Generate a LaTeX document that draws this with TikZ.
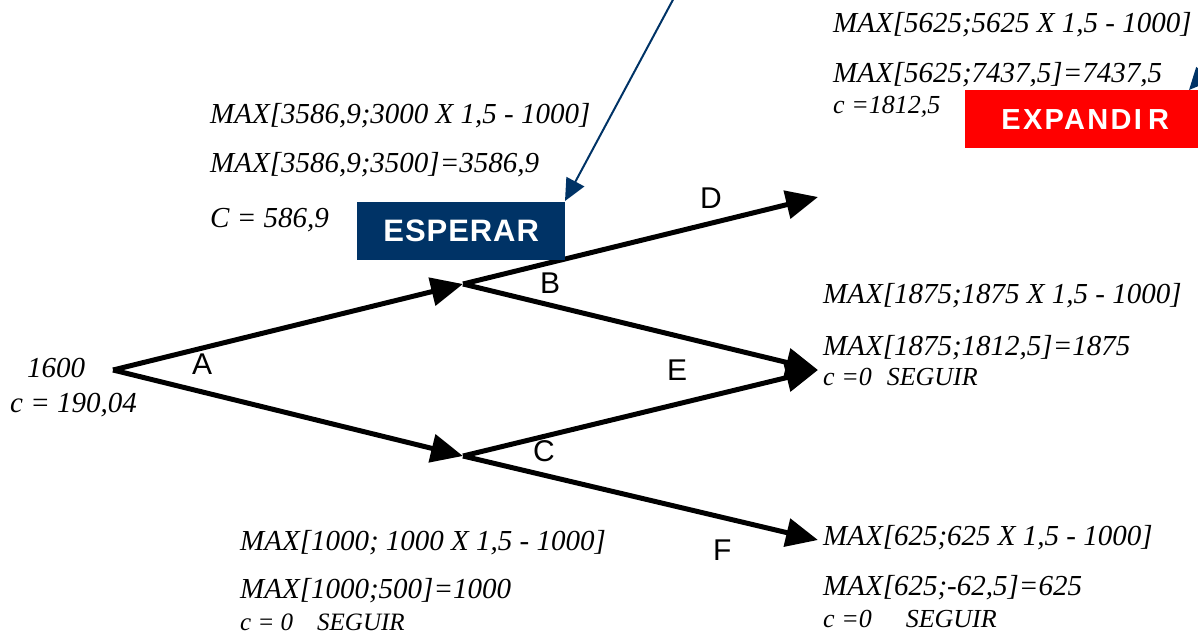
\documentclass[tikz,border=0pt]{standalone}
\usepackage{fontspec}
\setmainfont{Liberation Serif}
\newfontfamily\lsans{Liberation Sans}
\newfontfamily\espfont[LetterSpace=3]{Liberation Sans}
\newfontfamily\expfont[LetterSpace=8]{Liberation Sans}
\usetikzlibrary{arrows.meta}
\definecolor{navy}{RGB}{0,51,102}
\definecolor{redbox}{RGB}{255,0,0}
\begin{document}
\begin{tikzpicture}[x=1pt,y=-1pt,
  branch/.style={line width=5pt,-{Triangle[length=32pt,width=28pt]}},
  bluearrow/.style={draw=navy,line width=2pt,-{Triangle[length=22pt,width=20pt]},fill=navy},
  lbl/.style={font=\lsans\fontsize{30}{30}\selectfont,inner sep=0pt,anchor=base west},
  mx/.style={font=\itshape\fontsize{29}{29}\selectfont,inner sep=0pt,anchor=base west},
  cl/.style={font=\itshape\fontsize{26}{26}\selectfont,inner sep=0pt,anchor=base west},
  boxlbl/.style={inner sep=0pt,anchor=north west,text=white,font=\bfseries}]
\useasboundingbox (0,0) rectangle (1198,634);
\clip (0,0) rectangle (1198,634);

% tree points
\coordinate (root) at (113,370);
\coordinate (B) at (463,284);
\coordinate (C) at (463,456);
\coordinate (D) at (818,197);
\coordinate (E) at (818,370);
\coordinate (F) at (818,540);

\draw[branch] (root) -- (B);
\draw[branch] (root) -- (C);
\draw[branch] (B) -- (D);
\draw[branch] (B) -- (E);
\draw[branch] (C) -- (E);
\draw[branch] (C) -- (F);

% branch letters
\node[lbl] (lA) at (192,374) {A};
\node[lbl] (lB) at (540,293) {B};
\node[lbl] (lC) at (533,461) {C};
\node[lbl] (lD) at (700,208) {D};
\node[lbl] (lE) at (667,380) {E};
\node[lbl] (lF) at (713,560) {F};

% root text
\node[mx] (t1600) at (27,377) {1600};
\node[mx] (troot) at (10,412) {c = 190,04};

% B texts
\node[mx] (b1) at (210,123) {MAX[3586,9;3000 X 1,5 - 1000]};
\node[mx] (b2) at (210,172) {MAX[3586,9;3500]=3586,9};
\node[mx] (b3) at (210,227) {C = 586,9};

% D texts
\node[mx] (d1) at (833,33) {MAX[5625;5625 X 1,5 - 1000]};
\node[mx] (d2) at (833,82) {MAX[5625;7437,5]=7437,5};
\node[cl] (d3) at (833,113) {c =1812,5};

% E texts
\node[mx] (e1) at (823,303) {MAX[1875;1875 X 1,5 - 1000]};
\node[mx] (e2) at (823,355) {MAX[1875;1812,5]=1875};
\node[cl] (e3) at (823,385) {c =0\hspace{15pt}SEGUIR};

% C texts
\node[mx] (c1) at (240,550) {MAX[1000; 1000 X 1,5 - 1000]};
\node[mx] (c2) at (240,598) {MAX[1000;500]=1000};
\node[cl,font=\itshape\fontsize{25}{25}\selectfont] (c3) at (240,630) {c = 0\hspace{24pt}SEGUIR};

% F texts
\node[mx] (f1) at (823,545) {MAX[625;625 X 1,5 - 1000]};
\node[mx] (f2) at (823,595) {MAX[625;-62,5]=625};
\node[cl] (f3) at (823,627) {c =0\hspace{34pt}SEGUIR};

% blue arrows
\coordinate (bs1) at (690,-32);
\coordinate (es) at (1324,-58);
\coordinate (et) at (1189,90);
\draw[bluearrow] (bs1) -- (565,201);
\draw[bluearrow] (es) -- (et);

% boxes
\node[boxlbl,fill=navy,minimum width=208pt,minimum height=58pt,
  font=\espfont\bfseries\fontsize{31}{31}\selectfont] (esp) at (357,202) {ESPERAR};
\node[boxlbl,fill=redbox,minimum width=240pt,minimum height=58pt,
  font=\expfont\bfseries\fontsize{29}{29}\selectfont] (exp) at (965,90) {EXPANDI\hspace{6pt}R\hspace{12pt}};
\end{tikzpicture}
\end{document}
